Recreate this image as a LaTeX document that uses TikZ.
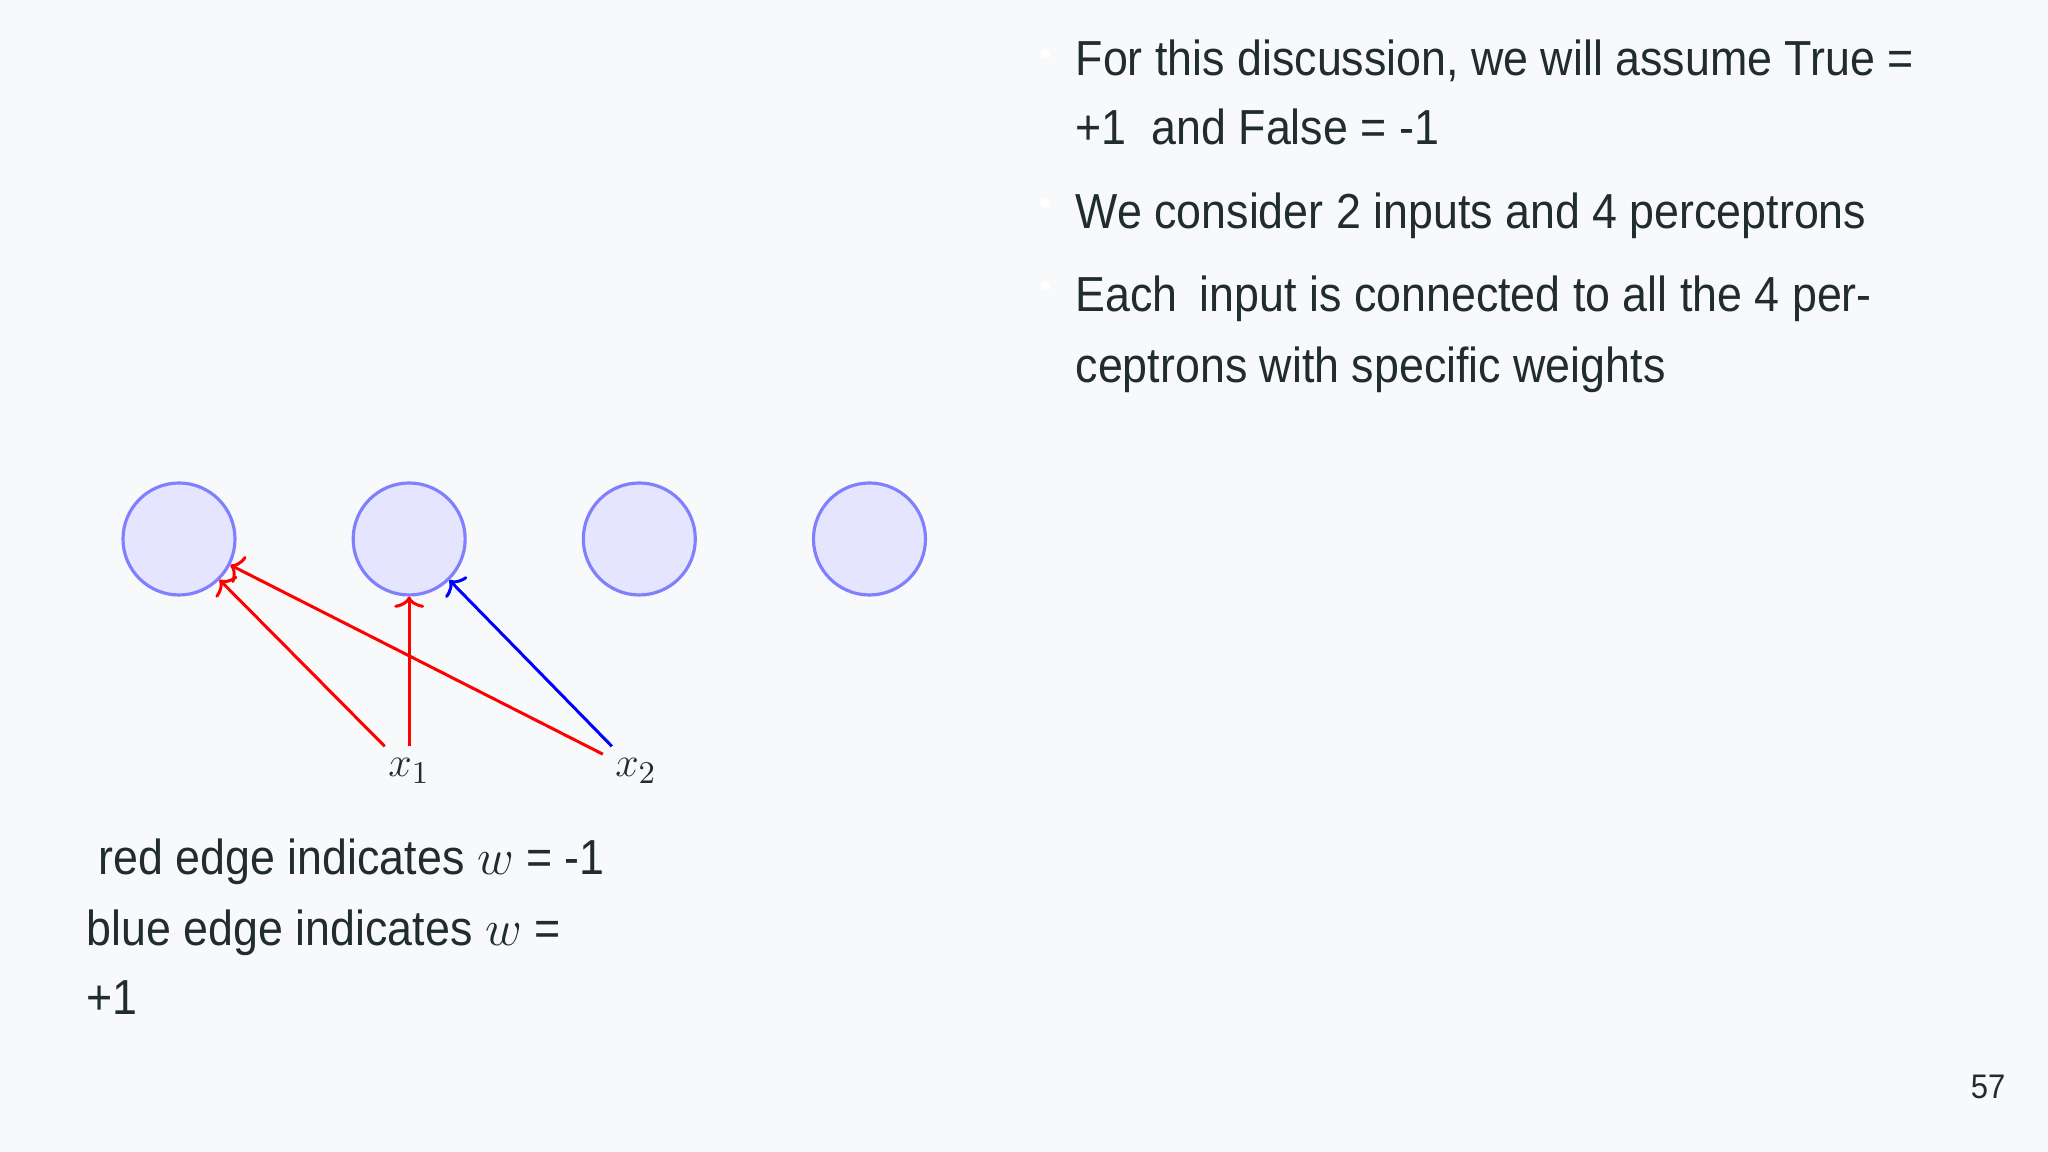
\documentclass[tikz,border=0pt]{standalone}
\usepackage{fontspec}
\setmainfont{Liberation Sans}[FakeStretch=0.91]
\usetikzlibrary{positioning,arrows.meta}
\definecolor{slidebg}{RGB}{248,249,250}
\definecolor{inkgray}{RGB}{33,45,45}

\begin{document}
\begin{tikzpicture}[
    neuron/.style={circle,draw=blue!50,fill=blue!10,line width=0.9pt,minimum size=1.12cm},
    redge/.style={->,red,line width=0.85pt},
    bedge/.style={->,blue,line width=0.85pt},
    >={To[length=3.2pt,width=8.5pt]},
    body/.style={font=\fontsize{14}{19.6}\selectfont,text=inkgray,inner sep=0pt,anchor=base west},
    inp/.style={font=\fontsize{12.5}{14}\selectfont,text=inkgray},
    dot/.style={circle,fill=white,inner sep=0pt,minimum size=0.1cm}
]
\fill[slidebg] (0,0) rectangle (20.48,11.52);
\useasboundingbox (0,0) rectangle (20.48,11.52);

% bullets on the right
\node[dot] (d1) at (10.45,10.98) {};
\node[body] (b1a) at (10.75,10.76) {For this discussion, we will assume True =};
\node[body] (b1b) at (10.75,10.07) {+1\ \ and False = -1};
\node[dot] (d2) at (10.45,9.49) {};
\node[body] (b2) at (10.75,9.23) {We consider 2 inputs and 4 perceptrons};
\node[dot] (d3) at (10.45,8.66) {};
\node[body] (b3a) at (10.75,8.40) {Each\hspace{0.45em}input is connected to all the 4 per-};
\node[body] (b3b) at (10.75,7.69) {ceptrons with specific weights};

% perceptrons
\node[neuron] (h1) at (1.79,6.13) {};
\node[neuron,right=1.15cm of h1] (h2) {};
\node[neuron,right=1.15cm of h2] (h3) {};
\node[neuron,right=1.15cm of h3] (h4) {};

% inputs
\node[inp] (x1) at (h2 |- 0,3.81) {$x_1$};
\node[inp] (x2) at (6.36,3.81) {$x_2$};

\draw[redge] (x1) -- (h1);
\draw[redge] (x1) -- (h2);
\draw[redge] (x2) -- (h1);
\draw[bedge] (x2) -- (h2);

% legend
\node[body] (l1) at (0.98,2.77) {red edge indicates $w$ = -1};
\node[body] (l2) at (0.86,2.06) {blue edge indicates $w$ =};
\node[body] (l3) at (0.86,1.37) {+1};

\node[font=\fontsize{9.7}{12}\selectfont,text=inkgray,anchor=base east,inner sep=0pt] (pg) at (20.06,0.53) {57};
\end{tikzpicture}
\end{document}
